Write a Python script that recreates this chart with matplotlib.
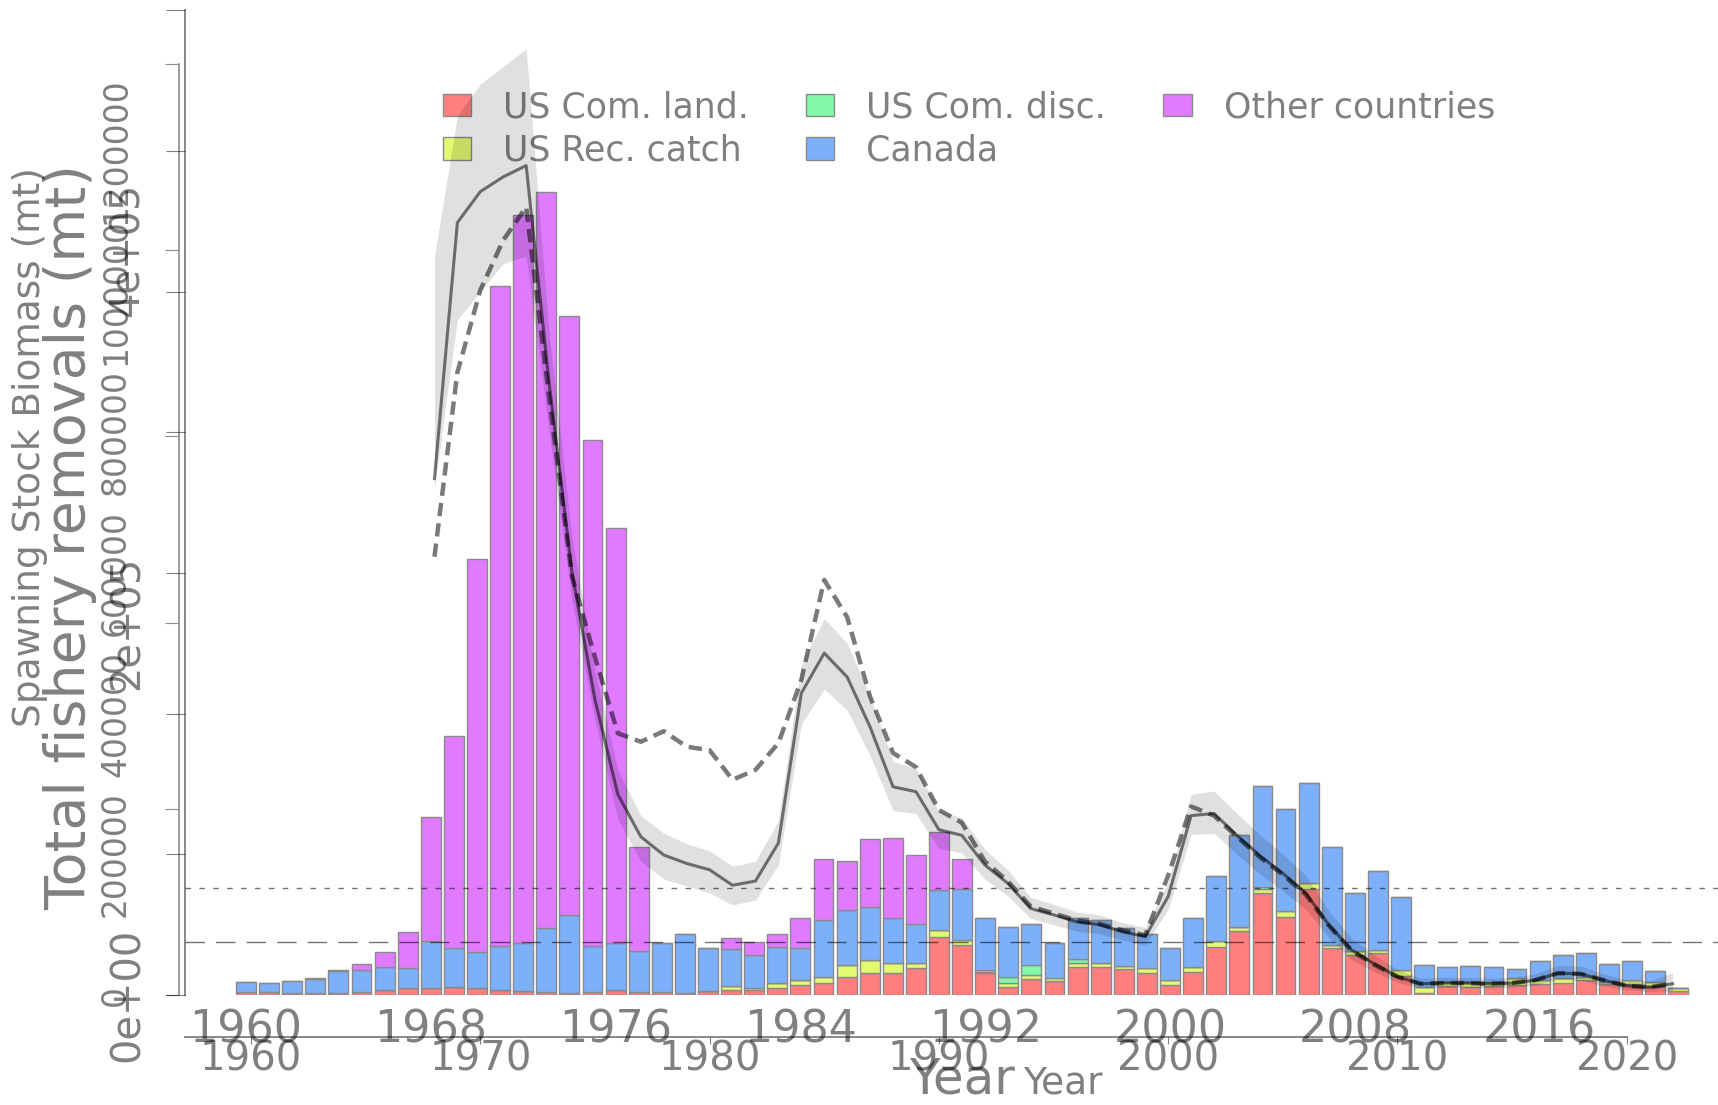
import matplotlib
matplotlib.use("Agg")
import matplotlib.pyplot as plt
from matplotlib import font_manager

# ---- catch by fleet (mt), 1960-2022 ----
years = list(range(1960, 2023))
us_com_land = [1500, 1500, 1200, 1200, 1200, 1500, 2700, 3600, 3600, 4500,
               4000, 2700, 2000, 1500, 1000, 1800, 2700, 1500, 1500, 1000,
               2000, 2700, 2500, 3600, 5400, 6600, 9500, 12000, 12000, 14300,
               31300, 26800, 11600, 4500, 8400, 7700, 15200, 14900, 13800, 11600,
               5400, 12500, 25900, 34400, 54900, 42000, 56700, 25000, 21500, 22400,
               10200, 1000, 4800, 4500, 4800, 5400, 5700, 6600, 8100, 5700,
               5700, 4800, 2300]
us_rec_catch = [0, 0, 0, 0, 0, 0, 0, 0, 0, 0,
                0, 0, 0, 0, 0, 0, 0, 0, 0, 0,
                0, 2100, 1500, 2700, 2700, 3200, 6600, 6800, 5000, 2700,
                3600, 2700, 500, 1800, 2300, 1200, 2200, 2500, 1800, 2700,
                2700, 2700, 3300, 2300, 2200, 3300, 3600, 1800, 2300, 1800,
                3200, 3500, 2400, 2700, 2400, 3500, 2400, 2300, 1700, 1500,
                2400, 2400, 1300]
us_com_disc = [0] * 32 + [1400, 3200, 5400, 0, 1700, 0, 0, 0,
                          0, 0, 0, 0, 1000, 0, 0, 0, 0, 0,
                          0, 0, 0, 0, 0, 0, 0, 0, 0, 0,
                          0, 0, 0]
canada = [5700, 4800, 6300, 7200, 11700, 11900, 12500, 11100, 25600, 20500,
          19300, 23800, 25700, 34300, 41900, 24700, 25000, 22100, 26200, 31600,
          23000, 19900, 17500, 19600, 17300, 30500, 29500, 28200, 24500, 20900,
          21500, 27400, 28000, 27200, 21800, 18800, 22100, 22900, 20200, 18300,
          16900, 26000, 34700, 49200, 54100, 54400, 53700, 52800, 30800, 42500,
          39400, 11600, 7700, 8500, 7700, 4900, 10300, 12600, 12600, 9300,
          10100, 5700, 0]
other_countries = [0, 0, 0, 500, 500, 3100, 8100, 18900, 66500, 114200,
                   210600, 354500, 391000, 395200, 321600, 271500, 223300, 56000, 0, 0,
                   0, 5700, 7100, 6700, 15800, 32700, 26500, 36700, 43000, 37200,
                   31300, 16100] + [0] * 31

# ---- spawning stock biomass (thousand mt), 1968-2022 ----
ssb_years = list(range(1968, 2023))
ssb = [734, 1098, 1142, 1163, 1179, 870, 600, 420, 285, 225,
       199, 187, 178, 156, 162, 216, 429, 486, 452, 381,
       296, 289, 235, 227, 185, 159, 123, 114, 104, 100,
       90, 83, 140, 255, 258, 227, 198, 173, 145, 100,
       64, 44, 26, 16, 17, 17, 16, 17, 21, 31,
       30, 21, 13, 11, 16]
ssb_lo = [720, 960, 1000, 1040, 1050, 800, 560, 390, 250, 190,
          165, 155, 145, 128, 135, 185, 385, 435, 405, 340,
          262, 258, 208, 202, 165, 141, 109, 100, 91, 87,
          78, 71, 122, 228, 230, 200, 172, 148, 122, 82,
          50, 33, 18, 10, 11, 11, 10, 11, 14, 22,
          21, 13, 7, 5, 6]
ssb_hi = [1050, 1250, 1295, 1320, 1345, 940, 650, 460, 320, 255,
          230, 215, 205, 183, 190, 248, 470, 535, 500, 425,
          332, 322, 262, 252, 207, 178, 139, 129, 118, 114,
          103, 96, 160, 285, 290, 258, 228, 200, 170, 120,
          80, 57, 36, 24, 25, 25, 24, 25, 30, 42,
          41, 30, 21, 20, 32]
ssb_prev = [623, 885, 1002, 1073, 1120, 850, 595, 480, 372, 360,
            375, 353, 348, 306, 320, 358, 448, 590, 537, 424,
            344, 324, 263, 245, 190, 162, 126, 116, 106, 101,
            92, 85, 170, 268, 255, 225, 196, 171, 143, 99,
            63, 43, 26, 16, 17, 17, 16, 17, 21, 31,
            30, 21, 13, 11, 16]
ssb_target = 152000
ssb_threshold = 76000

fleet_names = ["US Com. land.", "US Rec. catch", "US Com. disc.", "Canada", "Other countries"]
fleet_colors = ["#FF7F7F", "#E3F96F", "#80F8A8", "#7DB0FA", "#E07AFF"]

GREY = "#808080"
INK = (0, 0, 0, 0.5)   # black at half strength, darkens what lies below

names = {f.name for f in font_manager.fontManager.ttflist}
if "Liberation Sans Narrow" in names:
    narrow, nscale = "Liberation Sans Narrow", 1.0
else:
    narrow, nscale = "DejaVu Sans", 0.72

W, H = 1718, 1105


def rect(x0, y0, x1, y1):
    """Pixel box (top-left origin) to figure fraction."""
    return [x0 / W, 1 - y1 / H, (x1 - x0) / W, (y1 - y0) / H]


fig = plt.figure(figsize=(W / 100, H / 100), dpi=100)
fig.patch.set_facecolor("white")

# ---- catch bars ----
ax = fig.add_axes(rect(179, 64, W, 995))
bottom = [0] * len(years)
series = [us_com_land, us_rec_catch, us_com_disc, canada, other_countries]
for vals, name, col in zip(series, fleet_names, fleet_colors):
    ax.bar(years, vals, width=0.86, bottom=bottom, color=col,
           edgecolor="#8a8a8a", linewidth=1.0, label=name)
    bottom = [b + v for b, v in zip(bottom, vals)]

ax.set_xlim(1957.1, 2023.72)
ax.set_ylim(0, 500000)
for s in ["top", "right", "bottom"]:
    ax.spines[s].set_visible(False)
ax.spines["left"].set_color("#8c8c8c")
ax.spines["left"].set_linewidth(1.2)

ax.set_xticks(range(1960, 2017, 8), [str(y) for y in range(1960, 2017, 8)],
              fontsize=32, color=GREY, va="center")
ax.tick_params(axis="x", length=0, pad=25)
ax.set_yticks(range(0, 500001, 100000),
              ["0e+00", "", "2e+05", "", "4e+05", ""],
              rotation=90, ha="center", va="center", color=GREY,
              fontsize=40 * nscale, fontfamily=narrow)
ax.tick_params(axis="y", length=10, color="#8c8c8c", pad=27)
ax.set_xlabel("Year", fontsize=36, color=GREY, va="center")
ax.xaxis.set_label_coords((962 - 179) / (W - 179), -(1080 - 995) / (995 - 64))
ax.set_ylabel("Total fishery removals (mt)", fontsize=40, color=GREY, va="center")
ax.yaxis.set_label_coords((70 - 179) / (W - 179), (995 - 537) / (995 - 64))

ax.legend(ncol=3, loc="upper left", bbox_to_anchor=(443 / W, 1 - 90 / H),
          bbox_transform=fig.transFigure, frameon=False, fontsize=25,
          labelcolor=GREY, handlelength=0.81, handleheight=0.6,
          handletextpad=0.92, columnspacing=1.65, labelspacing=0.28,
          borderpad=0, borderaxespad=0)

# ---- spawning stock biomass ----
bx = fig.add_axes(rect(185, 9, W, 1037))
bx.patch.set_alpha(0)
bx.fill_between(ssb_years, [v * 1000 for v in ssb_lo], [v * 1000 for v in ssb_hi],
                color="black", alpha=0.12, linewidth=0)
bx.plot(ssb_years, [v * 1000 for v in ssb], color="black", alpha=0.52, lw=2.2)
bx.plot(ssb_years, [v * 1000 for v in ssb_prev], color="black", alpha=0.52, lw=3.2,
        dashes=(3.0, 1.6))
bx.axhline(ssb_target, color="black", alpha=0.55, lw=1.0, dashes=(4, 6))
bx.axhline(ssb_threshold, color="black", alpha=0.55, lw=1.0, dashes=(14, 8))

bx.set_xlim(1957.12, 2023.98)
bx.set_ylim(-59700, 1401600)
for s in ["top", "right"]:
    bx.spines[s].set_visible(False)
bx.spines["left"].set_color(INK)
bx.spines["left"].set_linewidth(1.3)
bx.spines["left"].set_bounds(0, 1400000)
bx.spines["bottom"].set_color(INK)
bx.spines["bottom"].set_linewidth(1.3)
bx.spines["bottom"].set_bounds(1957.12, 2020)

bx.set_xticks(range(1960, 2021, 10), [str(y) for y in range(1960, 2021, 10)],
              fontsize=29, color=INK, va="center")
bx.tick_params(axis="x", length=5, color=INK, pad=11)
bx.set_yticks(range(0, 1400001, 200000),
              ["0", "200000", "400000", "600000", "800000", "1000000", "1200000", ""],
              rotation=90, ha="center", va="center", color=INK,
              fontsize=33 * nscale, fontfamily=narrow)
bx.tick_params(axis="y", length=14, color=INK, pad=36)
bx.set_xlabel("Year", fontsize=27, color=INK, va="center")
bx.xaxis.set_label_coords((1063 - 185) / (W - 185), -(1084 - 1037) / (1037 - 9))
bx.set_ylabel("Spawning Stock Biomass (mt)", fontsize=27, color=INK, va="center")
bx.yaxis.set_label_coords((30 - 185) / (W - 185), (1037 - 447) / (1037 - 9))

fig.savefig("out.png", dpi=100, facecolor="white")
